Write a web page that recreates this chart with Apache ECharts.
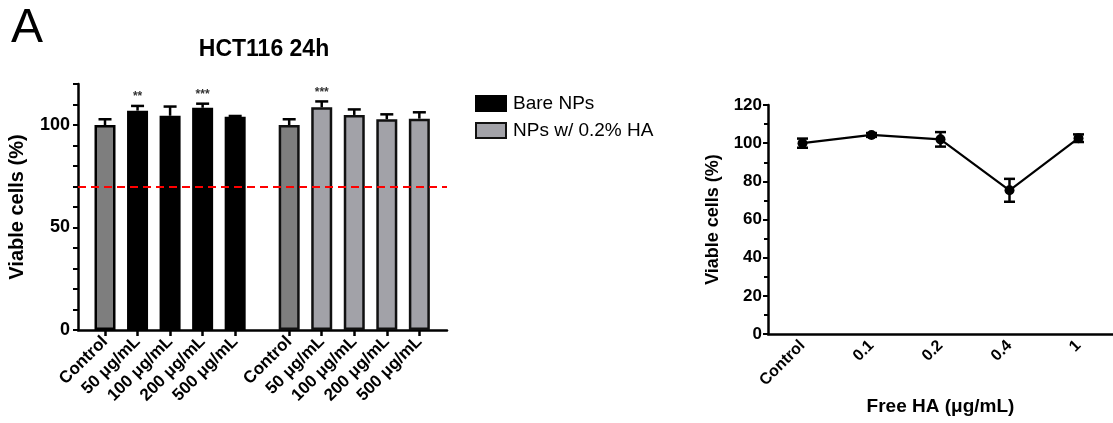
<!DOCTYPE html>
<html>
<head>
<meta charset="utf-8">
<script src="https://cdn.jsdelivr.net/npm/echarts@6/dist/echarts.min.js"></script>
<style>
html,body{margin:0;padding:0;background:#fff;}
#chart{width:1113px;height:423px;}
</style>
</head>
<body>
<div id="chart"></div>
<script>
// ---- Data: left panel (HCT116 24h) ----
var barCategories = ['Control', '50 μg/mL', '100 μg/mL', '200 μg/mL', '500 μg/mL'];
var bareValues = [100, 107, 104.5, 108.4, 104];
var bareErrors = [2.8, 2.3, 4.5, 2.0, 0.4];
var bareSig = ['', '**', '', '***', ''];
var haValues = [100, 108.6, 104.9, 102.8, 103.1];
var haErrors = [2.8, 2.9, 2.7, 2.4, 3.1];
var haSig = ['', '***', '', '', ''];
var thresholdValue = 70;
var leftYTicks = [0, 50, 100];

// ---- Data: right panel (Free HA) ----
var haCategories = ['Control', '0.1', '0.2', '0.4', '1'];
var freeHaValues = [100, 104.3, 102, 75.3, 102.6];
var freeHaErrors = [2.4, 1.0, 3.8, 6.0, 2.0];

// layout constants
var groupOffset = 5.66; // position offset of the second group on the x scale
var font = 'Liberation Sans, Arial, sans-serif';

var barsBare = bareValues.map(function (v, i) { return [i, v]; });
var barsHa = haValues.map(function (v, i) { return [i + groupOffset, v]; });
var positions = barCategories.map(function (c, i) { return i; })
  .concat(barCategories.map(function (c, i) { return i + groupOffset; }));
function labelFor(v) {
  for (var i = 0; i < barCategories.length; i++) {
    if (Math.abs(v - i) < 1e-6 || Math.abs(v - (i + groupOffset)) < 1e-6) return barCategories[i];
  }
  return '';
}

var errData = [];
bareValues.forEach(function (v, i) { errData.push([i, v, v + bareErrors[i], bareSig[i]]); });
haValues.forEach(function (v, i) { errData.push([i + groupOffset, v, v + haErrors[i], haSig[i]]); });

var lineErr = freeHaValues.map(function (v, i) { return [i, v - freeHaErrors[i], v + freeHaErrors[i]]; });

var chart = echarts.init(document.getElementById('chart'), null, {renderer: 'canvas'});

var option = {
  backgroundColor: '#fff',
  animation: false,
  title: [
    {text: 'A', left: 6, top: 0, textStyle: {fontFamily: font, fontSize: 48, fontWeight: 'normal', color: '#000'}},
    {text: 'HCT116 24h', left: 259, top: 33, textAlign: 'center', textStyle: {fontFamily: font, fontSize: 23, fontWeight: 'bold', color: '#000'}}
  ],
  legend: {
    left: 470, top: 89, orient: 'vertical', itemGap: 8, itemWidth: 30, itemHeight: 15,
    icon: 'rect',
    data: ['Bare NPs', 'NPs w/ 0.2% HA'],
    textStyle: {fontFamily: font, fontSize: 19, color: '#000', padding: [0, 0, 0, 2]},
    selectedMode: false
  },
  grid: [
    {left: 78, right: 666, top: 84, bottom: 93},
    {left: 768, right: 0, top: 105, bottom: 89}
  ],
  xAxis: [
    {
      type: 'value', gridIndex: 0, min: -0.83, max: 10.51,
      splitLine: {show: false},
      axisLine: {onZero: false, lineStyle: {color: '#000', width: 2.5}},
      axisTick: {customValues: positions, length: 6, lineStyle: {color: '#000', width: 2.5}},
      axisLabel: {
        customValues: positions, rotate: 45, margin: 9,
        fontFamily: font, fontSize: 17, fontWeight: 'bold', color: '#000',
        formatter: function (v) { return labelFor(v); }
      }
    },
    {
      type: 'category', gridIndex: 1, data: haCategories,
      axisLine: {onZero: false, lineStyle: {color: '#000', width: 2.5}},
      axisTick: {alignWithLabel: true, length: 6, lineStyle: {color: '#000', width: 2.5}},
      axisLabel: {rotate: 45, margin: 9, fontFamily: font, fontSize: 16, fontWeight: 'bold', color: '#000'},
      name: 'Free HA (μg/mL)', nameLocation: 'middle', nameGap: 63,
      nameTextStyle: {fontFamily: font, fontSize: 19, fontWeight: 'bold', color: '#000'}
    }
  ],
  yAxis: [
    {
      type: 'value', gridIndex: 0, min: 0, max: 120, interval: 10,
      splitLine: {show: false},
      axisLine: {show: true, onZero: false, lineStyle: {color: '#000', width: 2.5}},
      axisTick: {show: true, length: 5, lineStyle: {color: '#000', width: 2}},
      axisLabel: {
        fontFamily: font, fontSize: 18, fontWeight: 'bold', color: '#000', margin: 8,
        formatter: function (v) { return leftYTicks.indexOf(v) >= 0 ? String(v) : ''; }
      },
      name: 'Viable cells (%)', nameLocation: 'middle', nameGap: 51,
      nameTextStyle: {fontFamily: font, fontSize: 20, fontWeight: 'bold', color: '#000'}
    },
    {
      type: 'value', gridIndex: 1, min: 0, max: 120, interval: 20,
      splitLine: {show: false},
      axisLine: {show: true, onZero: false, lineStyle: {color: '#000', width: 2.5}},
      axisTick: {show: true, length: 5, lineStyle: {color: '#000', width: 2}},
      minorTick: {show: true, splitNumber: 2, length: 4, lineStyle: {color: '#000', width: 2}},
      axisLabel: {fontFamily: font, fontSize: 17, fontWeight: 'bold', color: '#000', margin: 6},
      name: 'Viable cells (%)', nameLocation: 'middle', nameGap: 46,
      nameTextStyle: {fontFamily: font, fontSize: 18, fontWeight: 'bold', color: '#000'}
    }
  ],
  series: [
    {
      name: 'Bare NPs', type: 'bar', xAxisIndex: 0, yAxisIndex: 0,
      barWidth: 21, barGap: '-100%',
      itemStyle: {color: '#000', borderColor: '#000', borderWidth: 2.5},
      data: barsBare.map(function (d, i) {
        return i === 0 ? {value: d, itemStyle: {color: '#7e7e7e'}} : d;
      }),
      markLine: {
        silent: true, symbol: 'none',
        lineStyle: {color: '#ff0000', type: [8, 5], width: 2},
        label: {show: false},
        data: [{yAxis: thresholdValue}]
      },
      z: 2
    },
    {
      name: 'NPs w/ 0.2% HA', type: 'bar', xAxisIndex: 0, yAxisIndex: 0,
      barWidth: 21, barGap: '-100%',
      itemStyle: {color: '#a2a2a8', borderColor: '#111', borderWidth: 2.5},
      data: barsHa.map(function (d, i) {
        return i === 0 ? {value: d, itemStyle: {color: '#7e7e7e'}} : d;
      }),
      z: 2
    },
    {
      type: 'custom', xAxisIndex: 0, yAxisIndex: 0, z: 3,
      data: errData,
      renderItem: function (params, api) {
        var base = api.coord([api.value(0), api.value(1)]);
        var top = api.coord([api.value(0), api.value(2)]);
        var sig = errData[params.dataIndex][3];
        var children = [
          {type: 'line', shape: {x1: base[0], y1: base[1], x2: top[0], y2: top[1]}, style: {stroke: '#000', lineWidth: 2.5}},
          {type: 'line', shape: {x1: top[0] - 6.5, y1: top[1], x2: top[0] + 6.5, y2: top[1]}, style: {stroke: '#000', lineWidth: 2.5}}
        ];
        if (sig) {
          children.push({type: 'text', x: top[0], y: top[1] - 3, style: {text: sig, textAlign: 'center', textVerticalAlign: 'bottom', fill: '#333', font: 'bold 12px ' + font}});
        }
        return {type: 'group', children: children};
      }
    },
    {
      type: 'line', xAxisIndex: 1, yAxisIndex: 1, z: 3,
      data: freeHaValues,
      symbol: 'circle', symbolSize: 10,
      lineStyle: {color: '#000', width: 2.2},
      itemStyle: {color: '#000'}
    },
    {
      type: 'custom', xAxisIndex: 1, yAxisIndex: 1, z: 4,
      data: lineErr,
      renderItem: function (params, api) {
        var lo = api.coord([api.value(0), api.value(1)]);
        var hi = api.coord([api.value(0), api.value(2)]);
        return {type: 'group', children: [
          {type: 'line', shape: {x1: lo[0], y1: lo[1], x2: hi[0], y2: hi[1]}, style: {stroke: '#000', lineWidth: 2.5}},
          {type: 'line', shape: {x1: hi[0] - 5.5, y1: hi[1], x2: hi[0] + 5.5, y2: hi[1]}, style: {stroke: '#000', lineWidth: 2.5}},
          {type: 'line', shape: {x1: lo[0] - 5.5, y1: lo[1], x2: lo[0] + 5.5, y2: lo[1]}, style: {stroke: '#000', lineWidth: 2.5}}
        ]};
      }
    }
  ]
};
chart.setOption(option);
</script>
</body>
</html>
